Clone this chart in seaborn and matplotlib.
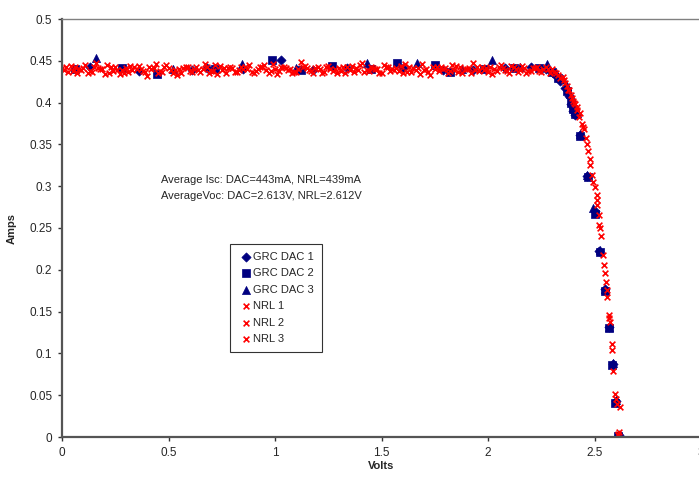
import matplotlib
matplotlib.use("Agg")
import matplotlib.pyplot as plt
import seaborn as sns
from matplotlib.ticker import FormatStrFormatter

# GRC DAC sweeps (volts, amps)
grc1_v = [0.13, 0.36, 0.61, 0.68, 0.85, 1.03, 1.18, 1.34, 1.60, 1.79, 1.93, 2.08, 2.20,
          2.27, 2.31, 2.34, 2.36, 2.38, 2.39, 2.40, 2.41, 2.43, 2.466, 2.500, 2.522,
          2.548, 2.566, 2.585, 2.600, 2.613]
grc1_i = [0.443, 0.438, 0.439, 0.441, 0.440, 0.451, 0.439, 0.441, 0.441, 0.439, 0.439, 0.441, 0.442,
          0.440, 0.434, 0.426, 0.418, 0.408, 0.398, 0.390, 0.385, 0.361, 0.312, 0.270, 0.223,
          0.177, 0.131, 0.087, 0.043, 0.002]

grc2_v = [0.06, 0.28, 0.445, 0.72, 0.985, 1.12, 1.266, 1.45, 1.571, 1.751, 1.82, 1.98, 2.12,
          2.24, 2.30, 2.33, 2.37, 2.39, 2.40, 2.41, 2.432, 2.468, 2.503, 2.524, 2.550,
          2.566, 2.584, 2.598, 2.612]
grc2_i = [0.440, 0.441, 0.434, 0.440, 0.451, 0.439, 0.444, 0.440, 0.447, 0.445, 0.437, 0.440, 0.441,
          0.441, 0.437, 0.430, 0.414, 0.400, 0.392, 0.386, 0.360, 0.311, 0.267, 0.221, 0.175,
          0.130, 0.086, 0.041, 0.001]

grc3_v = [0.16, 0.52, 0.843, 1.10, 1.43, 1.665, 1.88, 2.017, 2.15, 2.275, 2.32, 2.35, 2.37,
          2.385, 2.40, 2.42, 2.434, 2.465, 2.495, 2.525, 2.549, 2.567, 2.586, 2.601, 2.613]
grc3_i = [0.453, 0.440, 0.446, 0.441, 0.447, 0.447, 0.440, 0.451, 0.442, 0.446, 0.436, 0.428, 0.420,
          0.410, 0.398, 0.388, 0.362, 0.313, 0.274, 0.224, 0.177, 0.131, 0.088, 0.044, 0.002]

# NRL sweeps (volts, amps)
nrl1_v = [0.00, 0.03, 0.06, 0.09, 0.12, 0.15, 0.18, 0.21, 0.24, 0.27,
          0.30, 0.33, 0.36, 0.39, 0.42, 0.45, 0.48, 0.51, 0.54, 0.57,
          0.60, 0.63, 0.66, 0.69, 0.72, 0.75, 0.78, 0.81, 0.84, 0.87,
          0.90, 0.93, 0.96, 0.99, 1.02, 1.05, 1.08, 1.11, 1.14, 1.17,
          1.20, 1.23, 1.26, 1.29, 1.32, 1.35, 1.38, 1.41, 1.44, 1.47,
          1.50, 1.53, 1.56, 1.59, 1.62, 1.65, 1.68, 1.71, 1.74, 1.77,
          1.80, 1.83, 1.86, 1.89, 1.92, 1.95, 1.98, 2.01, 2.04, 2.07,
          2.10, 2.13, 2.16, 2.19, 2.22, 2.25, 2.28,
          2.31, 2.34, 2.36, 2.38, 2.40, 2.42, 2.432, 2.451, 2.468, 2.490,
          2.510, 2.521, 2.541, 2.557, 2.570, 2.588, 2.601, 2.612]
nrl1_i = [0.441, 0.437, 0.443, 0.439, 0.436, 0.442, 0.440, 0.445, 0.438, 0.434,
          0.441, 0.439, 0.444, 0.437, 0.440, 0.436, 0.442, 0.439, 0.433, 0.441,
          0.438, 0.443, 0.440, 0.436, 0.445, 0.439, 0.441, 0.437, 0.442, 0.440,
          0.435, 0.443, 0.439, 0.446, 0.438, 0.441, 0.436, 0.440, 0.444, 0.438,
          0.442, 0.437, 0.440, 0.435, 0.443, 0.439, 0.441, 0.447, 0.438, 0.440,
          0.436, 0.442, 0.439, 0.444, 0.437, 0.441, 0.434, 0.440, 0.443, 0.438,
          0.441, 0.445, 0.437, 0.440, 0.436, 0.442, 0.439, 0.443, 0.438, 0.441,
          0.435, 0.440, 0.444, 0.438, 0.441, 0.437, 0.440,
          0.437, 0.430, 0.424, 0.415, 0.402, 0.391, 0.387, 0.368, 0.342, 0.313,
          0.290, 0.254, 0.218, 0.176, 0.146, 0.079, 0.045, 0.004]

nrl2_v = [0.01, 0.04, 0.07, 0.10, 0.13, 0.16, 0.19, 0.22, 0.25, 0.28,
          0.31, 0.34, 0.37, 0.40, 0.43, 0.46, 0.49, 0.52, 0.55, 0.58,
          0.61, 0.64, 0.67, 0.70, 0.73, 0.76, 0.79, 0.82, 0.85, 0.88,
          0.91, 0.94, 0.97, 1.00, 1.03, 1.06, 1.09, 1.12, 1.15, 1.18,
          1.21, 1.24, 1.27, 1.30, 1.33, 1.36, 1.39, 1.42, 1.45, 1.48,
          1.51, 1.54, 1.57, 1.60, 1.63, 1.66, 1.69, 1.72, 1.75, 1.78,
          1.81, 1.84, 1.87, 1.90, 1.93, 1.96, 1.99, 2.02, 2.05, 2.08,
          2.11, 2.14, 2.17, 2.20, 2.23, 2.26, 2.29,
          2.32, 2.35, 2.376, 2.39, 2.405, 2.416, 2.440, 2.460, 2.479, 2.502,
          2.510, 2.519, 2.531, 2.549, 2.560, 2.570, 2.581, 2.620, 2.609]
nrl2_i = [0.439, 0.444, 0.436, 0.441, 0.438, 0.447, 0.440, 0.435, 0.442, 0.439,
          0.437, 0.443, 0.440, 0.432, 0.441, 0.438, 0.445, 0.436, 0.440, 0.442,
          0.437, 0.439, 0.446, 0.438, 0.434, 0.441, 0.443, 0.437, 0.440, 0.445,
          0.438, 0.442, 0.436, 0.440, 0.443, 0.439, 0.437, 0.448, 0.441, 0.436,
          0.440, 0.443, 0.438, 0.441, 0.436, 0.444, 0.439, 0.437, 0.442, 0.440,
          0.445, 0.438, 0.441, 0.435, 0.443, 0.439, 0.446, 0.437, 0.440, 0.442,
          0.436, 0.439, 0.443, 0.440, 0.447, 0.438, 0.441, 0.434, 0.442, 0.439,
          0.444, 0.437, 0.441, 0.438, 0.443, 0.440, 0.436,
          0.436, 0.431, 0.415, 0.409, 0.399, 0.395, 0.375, 0.358, 0.332, 0.299,
          0.277, 0.266, 0.240, 0.196, 0.167, 0.142, 0.111, 0.036, 0.002]

nrl3_v = [0.02, 0.05, 0.08, 0.11, 0.14, 0.17, 0.20, 0.23, 0.26, 0.29,
          0.32, 0.35, 0.38, 0.41, 0.44, 0.47, 0.50, 0.53, 0.56, 0.59,
          0.62, 0.65, 0.68, 0.71, 0.74, 0.77, 0.80, 0.83, 0.86, 0.89,
          0.92, 0.95, 0.98, 1.01, 1.04, 1.07, 1.10, 1.13, 1.16, 1.19,
          1.22, 1.25, 1.28, 1.31, 1.34, 1.37, 1.40, 1.43, 1.46, 1.49,
          1.52, 1.55, 1.58, 1.61, 1.64, 1.67, 1.70, 1.73, 1.76, 1.79,
          1.82, 1.85, 1.88, 1.91, 1.94, 1.97, 2.00, 2.03, 2.06, 2.09,
          2.12, 2.15, 2.18, 2.21, 2.24, 2.27,
          2.30, 2.33, 2.355, 2.37, 2.395, 2.41, 2.425, 2.446, 2.464, 2.479,
          2.495, 2.513, 2.524, 2.544, 2.556, 2.572, 2.583, 2.598, 2.605, 2.614]
nrl3_i = [0.442, 0.438, 0.440, 0.445, 0.437, 0.441, 0.434, 0.443, 0.439, 0.436,
          0.444, 0.440, 0.438, 0.442, 0.446, 0.437, 0.441, 0.439, 0.435, 0.443,
          0.440, 0.437, 0.442, 0.438, 0.444, 0.436, 0.441, 0.439, 0.443, 0.437,
          0.440, 0.445, 0.438, 0.434, 0.442, 0.440, 0.437, 0.443, 0.439, 0.441,
          0.436, 0.444, 0.440, 0.438, 0.442, 0.437, 0.445, 0.439, 0.441, 0.436,
          0.443, 0.440, 0.438, 0.446, 0.437, 0.441, 0.439, 0.433, 0.442, 0.440,
          0.438, 0.444, 0.436, 0.441, 0.439, 0.443, 0.437, 0.440, 0.445, 0.438,
          0.442, 0.439, 0.436, 0.441, 0.438, 0.442,
          0.440, 0.433, 0.427, 0.420, 0.405, 0.398, 0.383, 0.371, 0.350, 0.325,
          0.305, 0.283, 0.250, 0.206, 0.185, 0.138, 0.104, 0.052, 0.040, 0.006]

x_ticks = [0, 0.5, 1, 1.5, 2, 2.5, 3]
y_ticks = [0, 0.05, 0.1, 0.15, 0.2, 0.25, 0.3, 0.35, 0.4, 0.45, 0.5]

sns.set_style("white")
plt.rcParams['font.family'] = ['Liberation Sans', 'DejaVu Sans']

fig = plt.figure(figsize=(6.99, 4.79), dpi=100)
ax = fig.add_axes([62 / 699, 42 / 479, 639 / 699, 418 / 479])

navy = '#000080'
series = [
    ('GRC DAC 1', grc1_v, grc1_i, 'D', navy, 22),
    ('GRC DAC 2', grc2_v, grc2_i, 's', navy, 30),
    ('GRC DAC 3', grc3_v, grc3_i, '^', navy, 34),
    ('NRL 1', nrl1_v, nrl1_i, 'x', 'red', 17),
    ('NRL 2', nrl2_v, nrl2_i, 'x', 'red', 17),
    ('NRL 3', nrl3_v, nrl3_i, 'x', 'red', 17),
]
for label, v, i, m, c, s in series:
    if m == 'x':
        sns.scatterplot(x=v, y=i, ax=ax, marker=m, color=c, s=s, linewidth=1.2, label=label)
    else:
        sns.scatterplot(x=v, y=i, ax=ax, marker=m, color=c, s=s, edgecolor=c, linewidth=0.5, label=label)

ax.set_xlim(0, 3)
ax.set_ylim(0, 0.5)
ax.set_xticks(x_ticks)
ax.set_yticks(y_ticks)
ax.xaxis.set_major_formatter(FormatStrFormatter('%g'))
ax.yaxis.set_major_formatter(FormatStrFormatter('%g'))
ax.tick_params(direction='out', length=3, width=1, color='#333333', labelsize=8.5, pad=4,
               bottom=True, left=True)

for side in ['left', 'bottom']:
    ax.spines[side].set_color('#555555')
    ax.spines[side].set_linewidth(1.6)
ax.spines['top'].set_color('#808080')
ax.spines['top'].set_linewidth(1.0)
ax.spines['right'].set_color('#808080')

ax.set_xlabel('Volts', fontsize=8, fontweight='bold', va='center')
ax.set_ylabel('Amps', fontsize=8, fontweight='bold', va='center')
ax.xaxis.set_label_coords(0.5, -(466 - 437) / 418)
ax.yaxis.set_label_coords(-(62 - 12) / 639, 0.5)

ax.text(0.465, 0.307, 'Average Isc: DAC=443mA, NRL=439mA', fontsize=8, va='center')
ax.text(0.465, 0.288, 'AverageVoc: DAC=2.613V, NRL=2.612V', fontsize=8, va='center')

leg = ax.legend(loc='upper left', bbox_to_anchor=(230 / 699, 1 - 244 / 479),
                bbox_transform=fig.transFigure, borderaxespad=0, fontsize=8, frameon=True,
                fancybox=False, borderpad=0.7, handlelength=1.4, handletextpad=0.0,
                labelspacing=0.58, scatterpoints=1)
leg.get_frame().set_edgecolor('black')
leg.get_frame().set_linewidth(0.8)

fig.savefig('out.png', dpi=100)
